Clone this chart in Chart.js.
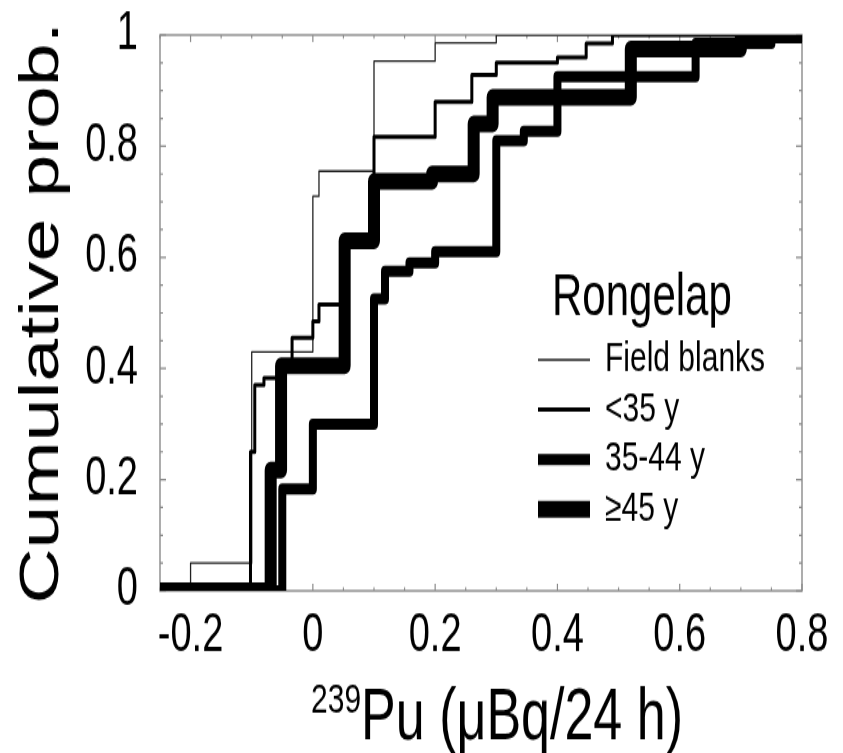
<!DOCTYPE html>
<html>
<head>
<meta charset="utf-8">
<script src="https://cdn.jsdelivr.net/npm/chart.js@4.4.1/dist/chart.umd.min.js"></script>
<style>
  html { overflow: hidden; }
  body { margin: 0; padding: 0; background: #fff; width: 843px; height: 753px; }
  #wrap { width: 843px; height: 538px; transform: scaleY(1.4); transform-origin: 0 0; }
</style>
</head>
<body>
<div id="wrap"><canvas id="c" width="843" height="538"></canvas></div>
<script>
// empirical cumulative distributions, x = 239Pu excretion, y = cumulative probability
var fieldX = [-0.25, -0.2, -0.1, 0.0, 0.01, 0.1, 0.2, 0.3, 0.8];
var fieldY = [0, 0.05, 0.43, 0.71, 0.755, 0.953, 0.986, 1, 1];

var under35X = [-0.25, -0.102, -0.095, -0.08, -0.05, -0.034, 0.0, 0.01, 0.05, 0.1, 0.2, 0.26, 0.3, 0.4, 0.447, 0.49, 0.8];
var under35Y = [0, 0.25, 0.37, 0.383, 0.41, 0.455, 0.485, 0.515, 0.63, 0.817, 0.88, 0.928, 0.95, 0.96, 0.985, 1, 1];

var mid35X = [-0.25, -0.05, 0.0, 0.1, 0.118, 0.158, 0.2, 0.3, 0.345, 0.4, 0.626, 0.75, 0.8];
var mid35Y = [0, 0.183, 0.30, 0.525, 0.575, 0.59, 0.61, 0.81, 0.827, 0.925, 0.985, 1, 1];

var over45X = [-0.25, -0.069, -0.052, 0.052, 0.1, 0.195, 0.263, 0.294, 0.52, 0.7, 0.8];
var over45Y = [0, 0.217, 0.405, 0.63, 0.737, 0.75, 0.84, 0.888, 0.975, 1, 1];

var seriesNames = ['Field blanks', '<35 y', '35-44 y', '\u226545 y'];
var seriesWidths = [1.3, 3, 8, 12];
var seriesColors = ['#222', '#000', '#000', '#000'];

var xTicks = [-0.2, 0, 0.2, 0.4, 0.6, 0.8];
var xTickLabels = ['-0.2', '0', '0.2', '0.4', '0.6', '0.8'];
var yTicks = [0, 0.2, 0.4, 0.6, 0.8, 1];
var yTickLabels = ['0', '0.2', '0.4', '0.6', '0.8', '1'];

var FONT = '"Liberation Sans", Arial, Helvetica, sans-serif';

function pts(xs, ys) {
  return xs.map(function (x, i) { return { x: x, y: ys[i] }; });
}

var allX = [fieldX, under35X, mid35X, over45X];
var allY = [fieldY, under35Y, mid35Y, over45Y];
var datasets = [];
for (var i = 0; i < 4; i++) {
  datasets.push({
    label: seriesNames[i],
    data: pts(allX[i], allY[i]),
    stepped: 'before',
    borderColor: seriesColors[i],
    borderWidth: seriesWidths[i],
    borderJoinStyle: 'round',
    pointRadius: 0,
    fill: false,
    clip: 0
  });
}
// thickest curve underneath
datasets.reverse();

// box around the plot with inward tick marks
var frame = {
  id: 'frame',
  beforeDatasetsDraw: function (chart) {
    var ctx = chart.ctx, a = chart.chartArea;
    var xs = chart.scales.x, ys = chart.scales.y;
    ctx.save();
    ctx.strokeStyle = '#8a8a8a';
    ctx.lineWidth = 1.4;
    ctx.strokeRect(a.left, a.top, a.right - a.left, a.bottom - a.top);
    ctx.lineWidth = 1.2;
    ctx.beginPath();
    for (var k = -5; k <= 16; k++) {
      var px = xs.getPixelForValue(k * 0.05);
      var len = (k % 4 === 0) ? 5 : 2.5;
      ctx.moveTo(px, a.bottom); ctx.lineTo(px, a.bottom - len);
      ctx.moveTo(px, a.top); ctx.lineTo(px, a.top + len);
    }
    for (var m = 0; m <= 20; m++) {
      var py = ys.getPixelForValue(m * 0.05);
      var l2 = (m % 4 === 0) ? 6 : 3;
      ctx.moveTo(a.left, py); ctx.lineTo(a.left + l2, py);
      ctx.moveTo(a.right, py); ctx.lineTo(a.right - l2, py);
    }
    ctx.stroke();
    ctx.restore();
  }
};

// axis titles and the legend box
var annotate = {
  id: 'annotate',
  afterDraw: function (chart) {
    var ctx = chart.ctx, a = chart.chartArea;
    ctx.save();
    ctx.fillStyle = '#000';

    ctx.save();
    ctx.translate(43, (a.top + a.bottom) / 2);
    ctx.rotate(-Math.PI / 2);
    ctx.font = '55px ' + FONT;
    ctx.textAlign = 'center';
    ctx.textBaseline = 'middle';
    ctx.fillText('Cumulative prob.', 0, 0);
    ctx.restore();

    var sup = '239', main = 'Pu (\u03bcBq/24 h)';
    ctx.textBaseline = 'alphabetic';
    ctx.textAlign = 'left';
    ctx.font = '30px ' + FONT;
    var w1 = ctx.measureText(sup).width;
    ctx.font = '52px ' + FONT;
    var w2 = ctx.measureText(main).width;
    var x0 = 497 - (w1 + w2) / 2, base = 528;
    ctx.font = '30px ' + FONT;
    ctx.fillText(sup, x0, base - 19);
    ctx.font = '52px ' + FONT;
    ctx.fillText(main, x0 + w1, base);

    ctx.font = '42px ' + FONT;
    ctx.textBaseline = 'middle';
    ctx.fillText('Rongelap', 552, 213);
    ctx.font = '30px ' + FONT;
    var order = [3, 2, 1, 0];
    order.forEach(function (di, row) {
      var ds = chart.data.datasets[di];
      var y = 257 + row * 35.6;
      ctx.strokeStyle = ds.borderColor;
      ctx.lineWidth = ds.borderWidth;
      ctx.beginPath();
      ctx.moveTo(538, y); ctx.lineTo(590, y);
      ctx.stroke();
      ctx.fillText(ds.label, 605, y);
    });
    ctx.restore();
  }
};

var ctx = document.getElementById('c');
var chart = new Chart(ctx, {
  type: 'line',
  data: { datasets: datasets },
  options: {
    responsive: false,
    animation: false,
    devicePixelRatio: 1,
    layout: { padding: { left: 0, right: 41, top: 25, bottom: 0 } },
    plugins: { legend: { display: false }, tooltip: { enabled: false } },
    scales: {
      x: {
        type: 'linear',
        min: -0.25,
        max: 0.8,
        afterBuildTicks: function (s) { s.ticks = xTicks.map(function (v) { return { value: v }; }); },
        afterFit: function (s) { s.height = 116; s.paddingLeft = 0; s.paddingRight = 0; },
        grid: { display: false, drawTicks: false },
        border: { display: false },
        ticks: {
          padding: 10,
          color: '#000',
          font: { family: FONT, size: 38 },
          maxRotation: 0,
          autoSkip: false,
          callback: function (v) { return xTickLabels[xTicks.indexOf(v)]; }
        }
      },
      y: {
        type: 'linear',
        min: 0,
        max: 1,
        afterBuildTicks: function (s) { s.ticks = yTicks.map(function (v) { return { value: v }; }); },
        afterFit: function (s) { s.width = 160; s.paddingTop = 0; s.paddingBottom = 0; },
        grid: { display: false, drawTicks: false },
        border: { display: false },
        ticks: {
          padding: 22,
          color: '#000',
          font: { family: FONT, size: 38 },
          autoSkip: false,
          callback: function (v) { return yTickLabels[yTicks.indexOf(v)]; }
        }
      }
    }
  },
  plugins: [frame, annotate]
});
</script>
</body>
</html>
